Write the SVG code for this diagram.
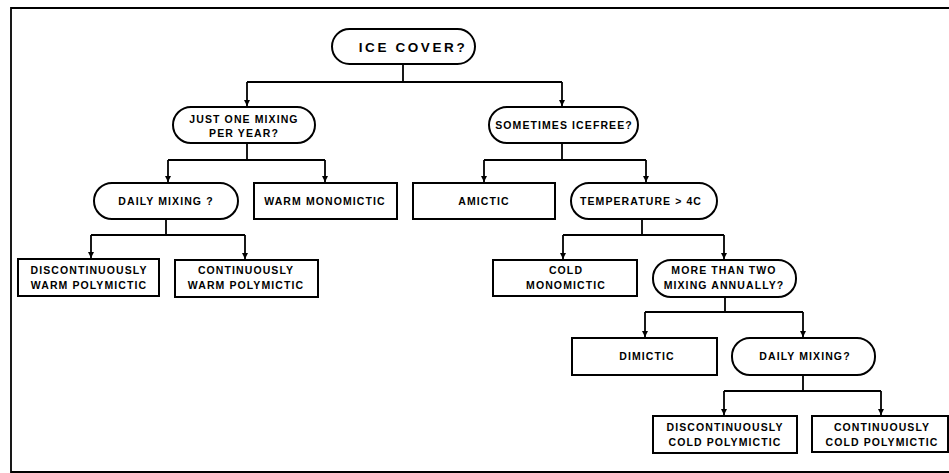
<svg xmlns="http://www.w3.org/2000/svg" width="949" height="473" viewBox="0 0 949 473">
<defs>
<marker id="arr" markerWidth="8" markerHeight="8" refX="6" refY="4" orient="auto" markerUnits="userSpaceOnUse">
<path d="M0,1 L6,4 L0,7 Z" fill="#000"/>
</marker>
<style>
.box{fill:#fff;stroke:#000;stroke-width:2}
.ln{fill:none;stroke:#000;stroke-width:1.8}
.ar{fill:none;stroke:#000;stroke-width:1.8;marker-end:url(#arr)}
text{font-family:"Liberation Sans",Arial,sans-serif;font-weight:bold;font-size:10.5px;text-anchor:middle;fill:#000;letter-spacing:1.1px}
.big{font-size:13.5px;letter-spacing:2.6px}
</style>
</defs>
<rect width="949" height="473" fill="#fff"/>
<path class="ln" d="M949,8 H11 V472 H949" stroke-width="1.5"/>
<g id="connectors">
<path class="ln" d="M403,64 V82 M247,82 H562"/>
<path class="ar" d="M247,82 V106"/>
<path class="ar" d="M562,82 V106"/>
<path class="ln" d="M247,143 V160 M168,160 H325"/>
<path class="ar" d="M168,160 V182"/>
<path class="ar" d="M325,160 V182"/>
<path class="ln" d="M562,143 V160 M484,160 H646"/>
<path class="ar" d="M484,160 V182"/>
<path class="ar" d="M646,160 V182"/>
<path class="ln" d="M166,219 V235 M91,235 H245"/>
<path class="ar" d="M91,235 V258"/>
<path class="ar" d="M245,235 V259"/>
<path class="ln" d="M642,219 V235 M563,235 H724"/>
<path class="ar" d="M563,235 V259"/>
<path class="ar" d="M724,235 V259"/>
<path class="ln" d="M725,297 V312 M645,312 H803"/>
<path class="ar" d="M645,312 V337"/>
<path class="ar" d="M803,312 V337"/>
<path class="ln" d="M803,375 V391 M724,391 H881"/>
<path class="ar" d="M724,391 V415"/>
<path class="ar" d="M881,391 V415"/>
</g>
<g id="ice-cover">
<rect class="box" x="332" y="29" width="143" height="35" rx="17.5"/>
<text class="big" x="413" y="52">ICE COVER?</text>
</g>
<g id="just-one-mixing">
<rect class="box" x="173" y="107" width="142" height="36" rx="18"/>
<text x="244" y="123">JUST ONE MIXING</text>
<text x="244" y="137">PER YEAR?</text>
</g>
<g id="sometimes-icefree">
<rect class="box" x="489" y="107" width="149" height="36" rx="18"/>
<text x="564" y="129">SOMETIMES ICEFREE?</text>
</g>
<g id="daily-mixing-1">
<rect class="box" x="94" y="183" width="144" height="36" rx="18"/>
<text x="166" y="205">DAILY MIXING ?</text>
</g>
<g id="warm-monomictic">
<rect class="box" x="254" y="183" width="143" height="36"/>
<text x="325" y="205">WARM MONOMICTIC</text>
</g>
<g id="amictic">
<rect class="box" x="413" y="183" width="142" height="36"/>
<text x="484" y="205">AMICTIC</text>
</g>
<g id="temperature">
<rect class="box" x="571" y="183" width="146" height="36" rx="18"/>
<text x="641" y="205">TEMPERATURE &gt; 4C</text>
</g>
<g id="disc-warm-polymictic">
<rect class="box" x="18" y="259" width="141" height="37"/>
<text x="89" y="274">DISCONTINUOUSLY</text>
<text x="89" y="289">WARM POLYMICTIC</text>
</g>
<g id="cont-warm-polymictic">
<rect class="box" x="175" y="260" width="143" height="37"/>
<text x="246" y="274">CONTINUOUSLY</text>
<text x="246" y="289">WARM POLYMICTIC</text>
</g>
<g id="cold-monomictic">
<rect class="box" x="493" y="260" width="144" height="36"/>
<text x="566" y="274">COLD</text>
<text x="566" y="289">MONOMICTIC</text>
</g>
<g id="more-than-two">
<rect class="box" x="653" y="260" width="143" height="37" rx="18"/>
<text x="724" y="274">MORE THAN TWO</text>
<text x="724" y="289">MIXING ANNUALLY?</text>
</g>
<g id="dimictic">
<rect class="box" x="572" y="338" width="145" height="37"/>
<text x="647" y="360">DIMICTIC</text>
</g>
<g id="daily-mixing-2">
<rect class="box" x="732" y="338" width="143" height="37" rx="18"/>
<text x="805" y="360">DAILY MIXING?</text>
</g>
<g id="disc-cold-polymictic">
<rect class="box" x="653" y="416" width="144" height="37"/>
<text x="725" y="431">DISCONTINUOUSLY</text>
<text x="725" y="446">COLD POLYMICTIC</text>
</g>
<g id="cont-cold-polymictic">
<rect class="box" x="812" y="416" width="136" height="36"/>
<text x="882" y="431">CONTINUOUSLY</text>
<text x="882" y="446">COLD POLYMICTIC</text>
</g>
</svg>
